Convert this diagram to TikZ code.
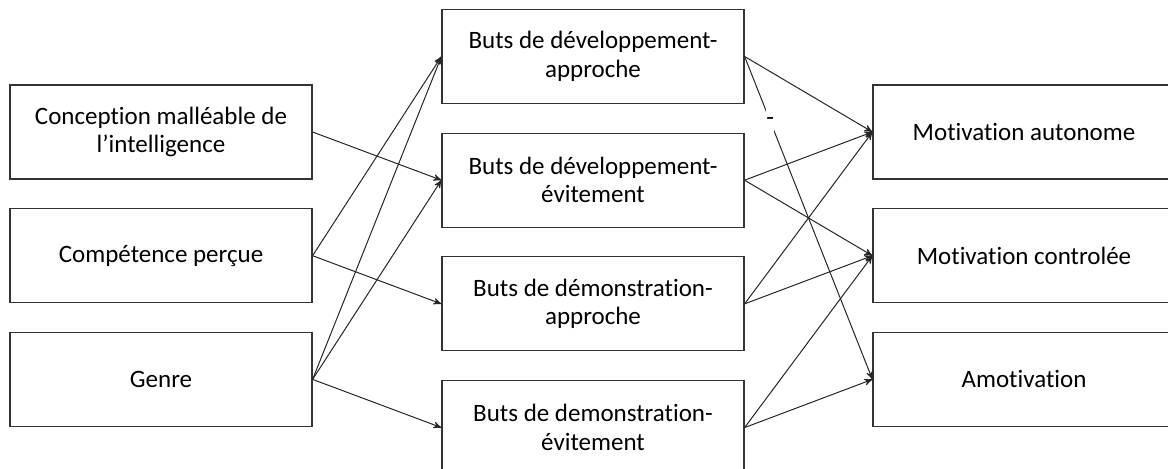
\documentclass[tikz,border=0pt]{standalone}
\usepackage{fontspec}
\setmainfont{Carlito}[Ligatures={NoCommon}]
\usetikzlibrary{arrows,positioning}

\begin{document}
\begin{tikzpicture}[->, >=stealth', x=0.5pt, y=-0.5pt, line width=0.5pt, node distance=14.25pt]
\tikzstyle{box}=[draw=black!80, line width=0.6pt, fill=white, minimum width=151pt, minimum height=47pt, inner sep=0pt, align=center, font=\fontsize{12.5}{14.2}\selectfont]
\tikzstyle{every edge}=[draw=black!85]
\tikzstyle{minus label}=[fill=white, inner sep=0pt, minimum width=4pt, minimum height=20pt, pos=0.2, font=\fontsize{12.5}{14.2}\selectfont]
\useasboundingbox (0,0) rectangle (1168,469);
% antecedents
\node[box] (conc)  at (161,132)   {Conception malléable de\\l’intelligence};
\node[box] (comp)  [below=of conc] {Compétence perçue};
\node[box] (genre) [below=of comp] {Genre};
% buts
\node[box] (devap) at (593,56.5)   {Buts de développement-\\approche};
\node[box] (devev) [below=of devap] {Buts de développement-\\évitement};
\node[box] (demap) [below=of devev] {Buts de démonstration-\\approche};
\node[box] (demev) [below=of demap] {Buts de demonstration-\\évitement};
% motivation
\node[box] (auto)  at (1024,132)   {Motivation autonome};
\node[box] (ctrl)  [below=of auto] {Motivation controlée};
\node[box] (amot)  [below=of ctrl] {Amotivation};
\path
(conc.east)  edge (devev.west)
(comp.east)  edge (devap.west)
             edge (demap.west)
(genre.east) edge (devap.west)
             edge (devev.west)
             edge (demev.west)
(devap.east) edge (auto.west)
             edge node[minus label]{-} (amot.west)
(devev.east) edge (auto.west)
             edge (ctrl.west)
(demap.east) edge (auto.west)
             edge (ctrl.west)
(demev.east) edge (ctrl.west)
             edge (amot.west);
\end{tikzpicture}
\end{document}
